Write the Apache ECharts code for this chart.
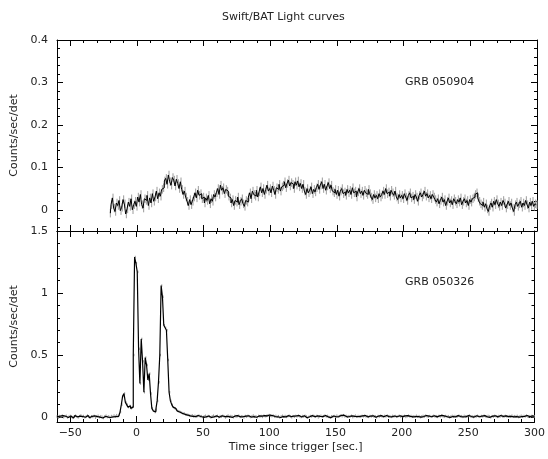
<!DOCTYPE html>
<html>
<head>
<meta charset="utf-8">
<script src="https://cdn.jsdelivr.net/npm/echarts@6/dist/echarts.min.js"></script>
<style>
  html, body { margin: 0; padding: 0; background: #fff; }
  #chart { width: 548px; height: 459px; }
</style>
</head>
<body>
<div id="chart"></div>
<script>
var chart = echarts.init(document.getElementById('chart'));

// time axis (sec since trigger)
var xMin = -60, xMax = 300;
var xMajor = [-50, 0, 50, 100, 150, 200, 250, 300];
var xMinorStep = 10;

// GRB 050904 (upper panel), 1 s bins starting at -20 s
var topStart = -20, topBin = 1, topErr = 0.01;
var topRate = [
  -0.008, 0.012, 0.028, 0.004, -0.004, 0.016, 0.01, 0.022, -0.002, 0.006, 0.024, 0.014, -0.01, 0.002, 0.018, 0.008, 0.026, 0.0, 0.012, 0.02,
  0.008, 0.03, 0.018, 0.036, 0.012, 0.004, 0.026, 0.022, 0.034, 0.01, 0.028, 0.016, 0.038, 0.02, 0.03, 0.044, 0.026, 0.04, 0.032, 0.048,
  0.052, 0.068, 0.074, 0.06, 0.082, 0.066, 0.058, 0.076, 0.07, 0.056, 0.072, 0.062, 0.05, 0.066, 0.048, 0.036, 0.044, 0.03, 0.02, 0.01,
  0.024, 0.012, 0.02, 0.03, 0.04, 0.028, 0.046, 0.034, 0.038, 0.026, 0.03, 0.016, 0.028, 0.022, 0.034, 0.014, 0.026, 0.02, 0.036, 0.03,
  0.04, 0.05, 0.036, 0.058, 0.046, 0.052, 0.038, 0.048, 0.044, 0.032, 0.028, 0.016, 0.024, 0.01, 0.022, 0.018, 0.03, 0.012, 0.02, 0.026,
  0.014, 0.008, 0.022, 0.018, 0.03, 0.04, 0.026, 0.044, 0.036, 0.032, 0.046, 0.03, 0.042, 0.054, 0.04, 0.05, 0.036, 0.048, 0.058, 0.044,
  0.05, 0.04, 0.056, 0.046, 0.036, 0.052, 0.048, 0.06, 0.044, 0.054, 0.058, 0.066, 0.052, 0.062, 0.07, 0.056, 0.064, 0.06, 0.05, 0.066,
  0.058, 0.068, 0.054, 0.062, 0.05, 0.06, 0.044, 0.036, 0.05, 0.04, 0.046, 0.054, 0.038, 0.048, 0.042, 0.052, 0.06, 0.048, 0.058, 0.066,
  0.05, 0.06, 0.046, 0.056, 0.064, 0.05, 0.058, 0.044, 0.04, 0.048, 0.036, 0.046, 0.032, 0.044, 0.05, 0.038, 0.042, 0.034, 0.048, 0.04,
  0.046, 0.036, 0.052, 0.04, 0.044, 0.03, 0.042, 0.05, 0.038, 0.044, 0.034, 0.046, 0.04, 0.036, 0.048, 0.038, 0.03, 0.024, 0.036, 0.028,
  0.034, 0.026, 0.038, 0.03, 0.036, 0.044, 0.036, 0.05, 0.038, 0.042, 0.032, 0.046, 0.04, 0.034, 0.044, 0.03, 0.024, 0.036, 0.028, 0.034,
  0.026, 0.038, 0.03, 0.022, 0.034, 0.04, 0.028, 0.032, 0.024, 0.036, 0.03, 0.02, 0.034, 0.04, 0.03, 0.036, 0.044, 0.032, 0.038, 0.028,
  0.034, 0.026, 0.036, 0.03, 0.024, 0.018, 0.026, 0.014, 0.022, 0.03, 0.018, 0.024, 0.01, 0.02, 0.028, 0.016, 0.022, 0.012, 0.026, 0.02,
  0.014, 0.024, 0.018, 0.028, 0.012, 0.02, 0.026, 0.016, 0.022, 0.01, 0.024, 0.018, 0.026, 0.03, 0.036, 0.04, 0.028, 0.02, 0.014, 0.01,
  0.018, 0.006, 0.014, 0.002, -0.004, 0.01, 0.016, 0.006, 0.02, 0.012, 0.024, 0.014, 0.008, 0.018, 0.01, 0.022, 0.016, 0.004, 0.012, 0.02,
  0.01, 0.016, 0.004, -0.004, 0.012, 0.018, 0.008, 0.014, 0.02, 0.006, 0.016, 0.01, 0.022, 0.012, 0.004, 0.018, 0.01, 0.02, 0.008, 0.014,
  0.012
];
var topMin = -0.05, topMax = 0.4;
var topMajor = [0, 0.1, 0.2, 0.3, 0.4];
var topMinorStep = 0.02;

// GRB 050326 (lower panel), 1 s bins starting at -60 s
var botStart = -60, botBin = 1, botErr = 0.01;
var botRate = [
  0.004, -0.006, 0.008, 0.002, 0.012, -0.002, 0.006, 0.01, -0.004, 0.003, 0.009, 0.001, -0.007, 0.005, 0.011, 0.002, -0.003, 0.007, 0.013, 0.004,
  0.008, -0.002, 0.005, 0.012, 0.003, -0.005, 0.006, 0.001, 0.009, -0.006, 0.004, 0.01, -0.001, 0.007, 0.002, -0.008, 0.005, 0.011, 0.0, 0.006,
  -0.004, 0.008, 0.002, 0.012, 0.004, 0.015, 0.006, 0.02, 0.04, 0.1, 0.17, 0.19, 0.12, 0.1, 0.08, 0.09, 0.07, 0.08, 0.5, 1.29,
  1.24, 1.17, 0.55, 0.27, 0.63, 0.45, 0.2, 0.48, 0.42, 0.3, 0.35, 0.19, 0.07, 0.05, 0.04, 0.06, 0.13, 0.28, 0.5, 1.06,
  0.97, 0.74, 0.72, 0.7, 0.46, 0.2, 0.13, 0.1, 0.08, 0.07, 0.06, 0.05, 0.045, 0.04, 0.035, 0.03, 0.028, 0.022, 0.02, 0.016,
  0.012, 0.009, 0.014, 0.006, 0.01, 0.003, 0.008, 0.012, 0.004, 0.007, -0.002, 0.006, 0.01, 0.001, 0.008, 0.004, -0.003, 0.006, 0.011, 0.002,
  0.005, 0.009, -0.001, 0.007, 0.003, 0.01, 0.004, -0.004, 0.006, 0.012, 0.002, 0.008, 0.005, -0.002, 0.009, 0.003, 0.007, 0.011, 0.001, 0.006,
  0.004, -0.003, 0.008, 0.002, 0.01, 0.005, 0.0, 0.007, 0.012, 0.003, 0.006, -0.002, 0.009, 0.004, 0.008, 0.001, 0.011, 0.006, 0.009, 0.013,
  0.016, 0.01, 0.007, 0.012, 0.004, 0.009, 0.002, 0.007, -0.004, 0.005, 0.01, 0.003, 0.008, 0.001, 0.006, 0.011, 0.004, -0.002, 0.007, 0.003,
  0.009, 0.005, 0.012, 0.006, 0.0, 0.008, 0.003, 0.01, 0.005, -0.006, 0.002, 0.008, 0.004, 0.011, 0.007, 0.002, 0.009, -0.003, 0.005, 0.01,
  0.003, 0.007, 0.012, 0.005, 0.009, 0.001, -0.005, 0.006, 0.003, 0.008, 0.002, 0.011, 0.004, 0.007, 0.013, 0.006, 0.015, 0.005, 0.009, 0.002,
  0.007, 0.004, 0.01, -0.001, 0.006, 0.011, 0.003, 0.008, 0.005, 0.002, 0.009, 0.006, 0.012, 0.004, 0.007, 0.001, 0.008, 0.005, 0.01, 0.003,
  0.006, -0.002, 0.008, 0.004, 0.011, 0.006, 0.002, 0.009, 0.005, 0.012, 0.003, 0.007, 0.001, 0.009, 0.004, 0.008, 0.002, 0.006, 0.01, 0.004,
  0.007, 0.003, 0.009, 0.001, 0.006, 0.011, 0.005, 0.008, 0.002, 0.006, 0.004, 0.01, 0.003, 0.007, -0.001, 0.005, 0.009, 0.004, 0.012, 0.006,
  0.003, 0.008, 0.002, 0.006, 0.01, 0.004, 0.007, 0.001, 0.009, 0.005, 0.013, 0.006, 0.003, 0.008, 0.002, 0.007, -0.003, 0.005, 0.009, 0.004,
  0.008, 0.002, 0.006, 0.011, 0.004, 0.007, 0.001, 0.009, 0.005, 0.003, 0.008, 0.012, 0.004, 0.006, 0.0, 0.007, 0.003, 0.01, 0.005, 0.002,
  0.008, 0.004, 0.011, 0.006, 0.002, 0.009, 0.005, -0.002, 0.007, 0.003, 0.01, 0.006, 0.001, 0.008, 0.004, 0.012, 0.005, 0.002, 0.009, 0.006,
  0.003, 0.008, 0.005, 0.011, 0.002, 0.007, 0.004, 0.009, 0.0, 0.006, 0.01, 0.003, 0.008, 0.005, 0.012, 0.004, 0.007, 0.002, 0.009, 0.005,
  0.006
];
var botMin = -0.04, botMax = 1.5;
var botMajor = [0, 0.5, 1, 1.5];
var botMinorStep = 0.1;

var fontFam = 'DejaVu Sans';
var txt = '#222';

// minor tick positions between min and max, skipping the major ones
function minorTicks(min, max, step, major) {
    var out = [];
    var start = Math.ceil(min / step - 1e-9) * step;
    for (var v = start; v <= max + 1e-9; v += step) {
        var r = Math.round(v * 1000) / 1000;
        var isMajor = major.some(function (m) { return Math.abs(m - r) < 1e-6; });
        if (!isMajor) out.push(r);
    }
    return out;
}

function toPoints(start, bin, rates, err) {
    return rates.map(function (v, i) {
        return [start + i * bin, v, err];
    });
}

function axis(grid, pos, min, max, ticks, len, extra) {
    var a = {
        type: 'value', gridIndex: grid, position: pos, min: min, max: max,
        axisLine: { show: len > 4, onZero: false, lineStyle: { color: '#000', width: 1 } },
        axisTick: { show: true, inside: true, length: len, customValues: ticks, lineStyle: { color: '#000', width: 1 } },
        axisLabel: { show: false },
        splitLine: { show: false },
        axisPointer: { show: false }
    };
    return Object.assign(a, extra || {});
}

var xMinor = minorTicks(xMin, xMax, xMinorStep, xMajor);
var topMinor = minorTicks(topMin, topMax, topMinorStep, topMajor);
var botMinor = minorTicks(botMin, botMax, botMinorStep, botMajor);

var labelStyle = { color: txt, fontFamily: fontFam, fontSize: 11 };

var xAxes = [
    axis(0, 'bottom', xMin, xMax, xMajor, 6),
    axis(0, 'bottom', xMin, xMax, xMinor, 3),
    axis(0, 'top', xMin, xMax, xMajor, 6),
    axis(0, 'top', xMin, xMax, xMinor, 3),
    axis(1, 'bottom', xMin, xMax, xMajor, 6, {
        axisLabel: Object.assign({ show: true, margin: 6, customValues: xMajor,
            formatter: function (v) { return v < 0 ? '\u2212' + Math.abs(v) : String(v); } }, labelStyle),
        name: 'Time since trigger [sec.]',
        nameLocation: 'middle',
        nameGap: 20,
        nameTextStyle: labelStyle
    }),
    axis(1, 'bottom', xMin, xMax, xMinor, 3),
    axis(1, 'top', xMin, xMax, xMajor, 6),
    axis(1, 'top', xMin, xMax, xMinor, 3)
];

function yLabelled(grid, min, max, major) {
    return axis(grid, 'left', min, max, major, 6, {
        axisLabel: Object.assign({ show: true, margin: 9, customValues: major }, labelStyle),
        name: 'Counts/sec/det',
        nameLocation: 'middle',
        nameGap: 31,
        nameTextStyle: labelStyle
    });
}

var yAxes = [
    yLabelled(0, topMin, topMax, topMajor),
    axis(0, 'left', topMin, topMax, topMinor, 3),
    axis(0, 'right', topMin, topMax, topMajor, 6),
    axis(0, 'right', topMin, topMax, topMinor, 3),
    yLabelled(1, botMin, botMax, botMajor),
    axis(1, 'left', botMin, botMax, botMinor, 3),
    axis(1, 'right', botMin, botMax, botMajor, 6),
    axis(1, 'right', botMin, botMax, botMinor, 3)
];

function errorBars(renderParams, api) {
    var x = api.value(0), v = api.value(1), e = api.value(2);
    var p1 = api.coord([x, v - e]);
    var p2 = api.coord([x, v + e]);
    return {
        type: 'line',
        shape: { x1: p1[0], y1: p1[1], x2: p2[0], y2: p2[1] },
        style: { stroke: '#9a9a9a', lineWidth: 1 }
    };
}

var topPts = toPoints(topStart, topBin, topRate, topErr);
var botPts = toPoints(botStart, botBin, botRate, botErr);

chart.setOption({
    animation: false,
    backgroundColor: '#fff',
    title: {
        text: 'Swift/BAT Light curves',
        left: 217, top: 7,
        textStyle: { color: txt, fontFamily: fontFam, fontSize: 11, fontWeight: 'normal' }
    },
    grid: [
        { left: 57, right: 11, top: 40, height: 191 },
        { left: 57, right: 11, top: 231, height: 191 }
    ],
    xAxis: xAxes,
    yAxis: yAxes,
    graphic: [
        { type: 'text', left: 405, top: 77, style: { text: 'GRB 050904', fill: txt, font: '11px "DejaVu Sans"' } },
        { type: 'text', left: 405, top: 277, style: { text: 'GRB 050326', fill: txt, font: '11px "DejaVu Sans"' } }
    ],
    series: [
        { type: 'custom', xAxisIndex: 0, yAxisIndex: 0, renderItem: errorBars, data: topPts, silent: true },
        {
            type: 'line', xAxisIndex: 0, yAxisIndex: 0, step: 'middle', showSymbol: false,
            data: topPts, lineStyle: { color: '#000', width: 1 }, silent: true
        },
        { type: 'custom', xAxisIndex: 4, yAxisIndex: 4, renderItem: errorBars, data: botPts, silent: true },
        {
            type: 'line', xAxisIndex: 4, yAxisIndex: 4, step: 'middle', showSymbol: false,
            data: botPts, lineStyle: { color: '#000', width: 1.2 }, silent: true
        }
    ]
});

window.addEventListener('resize', function () {
    chart.resize();
});
</script>
</body>
</html>
